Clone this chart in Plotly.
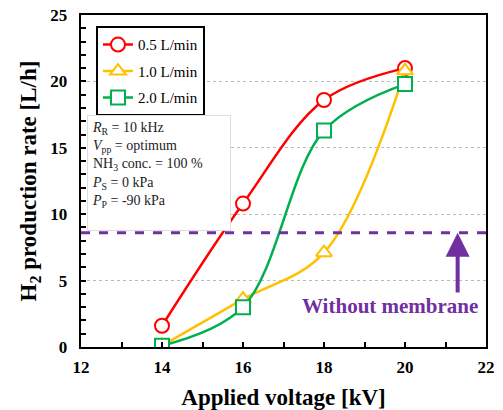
import plotly.graph_objects as go

voltage = [14, 16, 18, 20]
rate_05 = [1.6, 10.8, 18.6, 21.0]
rate_10 = [0.1, 3.6, 7.1, 20.8]
rate_20 = [0.1, 3.0, 16.3, 19.8]
series_names = ["0.5 L/min", "1.0 L/min", "2.0 L/min"]
without_membrane = 8.6
arrow_x = 21.3
arrow_tail_y = 4.0

colors = ["#FF0000", "#FFC000", "#00B050"]
symbols = ["circle", "triangle-up", "square"]
purple = "#7030A0"
serif = "Liberation Serif"

fig = go.Figure()
for i, (name, ys) in enumerate(zip(series_names, [rate_05, rate_10, rate_20])):
    fig.add_trace(go.Scatter(
        x=voltage, y=ys, name=name, mode="lines+markers",
        line=dict(color=colors[i], width=2.5, shape="spline", smoothing=1.0),
        marker=dict(symbol=symbols[i], size=14, color="white",
                    line=dict(color=colors[i], width=2)),
        legendgroup=f"g{i}",
    ))

fig.add_shape(type="line", xref="paper", x0=0, x1=1, yref="y",
              y0=without_membrane, y1=without_membrane,
              line=dict(color=purple, width=3, dash="dash"))

fig.add_annotation(x=arrow_x, y=without_membrane, ax=arrow_x, ay=arrow_tail_y,
                   xref="x", yref="y", axref="x", ayref="y",
                   showarrow=True, arrowhead=2, arrowsize=1.2, arrowwidth=4,
                   arrowcolor=purple, text="", standoff=0)

fig.add_annotation(x=19.62, y=3.1, xref="x", yref="y", showarrow=False,
                   text="<b>Without membrane</b>",
                   font=dict(family=serif, size=21, color=purple))

fig.add_annotation(
    xref="paper", yref="paper", x=0.015, y=0.70, xanchor="left", yanchor="top",
    showarrow=False, align="left",
    text=("<i>R</i><sub>R</sub> = 10 kHz<br><i>V</i><sub>pp</sub> = optimum<br>"
          "NH<sub>3</sub> conc. = 100 %<br><i>P</i><sub>S</sub> = 0 kPa<br>"
          "<i>P</i><sub>P</sub> = -90 kPa<br> "),
    font=dict(family=serif, size=14, color="#222"),
    bgcolor="white", bordercolor="#DDDDDD", borderwidth=1, borderpad=4,
    width=134,
)

fig.update_layout(
    width=503, height=410,
    margin=dict(l=81, r=17, t=15, b=63),
    plot_bgcolor="white", paper_bgcolor="white",
    font=dict(family=serif, color="black"),
    showlegend=True,
    legend=dict(x=0.037, y=0.966, xanchor="left", yanchor="top",
                bgcolor="white", bordercolor="black", borderwidth=2,
                font=dict(family=serif, size=15), tracegroupgap=4,
                itemwidth=30),
    xaxis=dict(range=[12, 22], dtick=2, tick0=12, automargin=False,
               ticks="inside", ticklen=5, tickwidth=1.5, tickcolor="black",
               ticklabelstandoff=4,
               minor=dict(dtick=1, ticks="inside", ticklen=5, tickcolor="black", tickwidth=1.5),
               showline=True, linecolor="black", linewidth=1.5, mirror=True,
               showgrid=False, zeroline=False,
               tickfont=dict(family=serif, size=17, color="black", weight="bold"),
               title=dict(text="<b>Applied voltage [kV]</b>",
                          font=dict(family=serif, size=23), standoff=14)),
    yaxis=dict(range=[0, 25], dtick=5, automargin=False,
               ticks="inside", ticklen=5, tickwidth=1.5, tickcolor="black",
               ticksuffix="\u2002",
               minor=dict(dtick=1, ticks="inside", ticklen=5, tickcolor="black", tickwidth=1.5),
               showline=True, linecolor="black", linewidth=1.5, mirror=True,
               showgrid=True, gridcolor="#BBBBBB", griddash="dot", gridwidth=1,
               zeroline=False,
               tickfont=dict(family=serif, size=17, color="black", weight="bold"),
               title=dict(text="<b>H<sub>2</sub> production rate [L/h]</b>",
                          font=dict(family=serif, size=23), standoff=7)),
)

fig.write_html("out.html", config={"displayModeBar": False},
               post_script="document.body.style.margin='0';")
